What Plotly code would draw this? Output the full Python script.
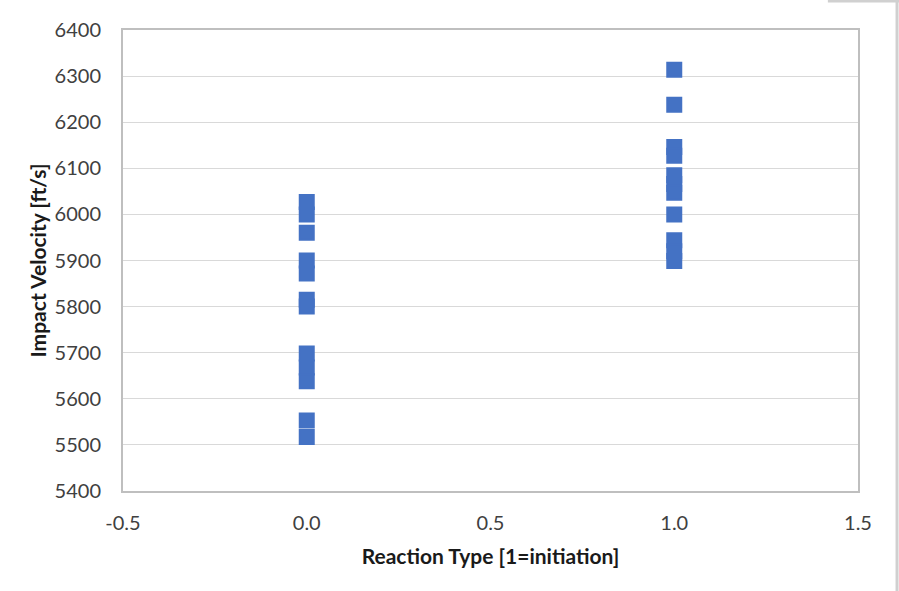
import plotly.graph_objects as go

reaction_0 = [0, 0, 0, 0, 0, 0, 0, 0, 0, 0, 0, 0]
velocity_0 = [6027, 6000, 5960, 5900, 5872, 5815, 5800, 5698, 5668, 5638, 5553, 5517]
reaction_1 = [1, 1, 1, 1, 1, 1, 1, 1, 1, 1, 1]
velocity_1 = [6314, 6238, 6146, 6127, 6085, 6066, 6047, 6000, 5944, 5920, 5899]

x_ticks = [-0.5, 0.0, 0.5, 1.0, 1.5]
x_tick_labels = ["-0.5", "0.0", "0.5", "1.0", "1.5"]
y_ticks = [5400, 5500, 5600, 5700, 5800, 5900, 6000, 6100, 6200, 6300, 6400]

fig = go.Figure()
fig.add_trace(go.Scatter(
    x=reaction_0 + reaction_1,
    y=velocity_0 + velocity_1,
    mode="markers",
    marker=dict(symbol="square", size=14, color="#4472C4", opacity=1,
                line=dict(color="#4472C4", width=2)),
    showlegend=False,
    hoverinfo="skip",
))

fig.update_layout(
    template="none",
    width=899, height=591,
    margin=dict(l=123, r=41, t=30, b=100),
    paper_bgcolor="white", plot_bgcolor="white",
    font=dict(family="Lato", size=20, color="#404040"),
    xaxis=dict(range=[-0.5, 1.5], tickvals=x_ticks, ticktext=x_tick_labels,
               showgrid=False, zeroline=False, showline=True, mirror=True,
               linecolor="#BFBFBF", linewidth=2,
               ticks="outside", ticklen=13, tickcolor="rgba(0,0,0,0)",
               tickfont=dict(size=20, color="#404040"),
               title=dict(text="<b>Reaction Type [1=initiation]</b>",
                          font=dict(size=21, color="#1a1a1a"), standoff=16)),
    yaxis=dict(range=[5400, 6400], tickvals=y_ticks,
               showgrid=True, gridcolor="#D9D9D9", gridwidth=1,
               zeroline=False, showline=True, mirror=True,
               linecolor="#BFBFBF", linewidth=2,
               ticks="outside", ticklen=16, tickcolor="rgba(0,0,0,0)",
               tickfont=dict(size=20, color="#404040"),
               title=dict(text="<b>Impact Velocity [ft/s]</b>",
                          font=dict(size=21, color="#1a1a1a"), standoff=2)),
    shapes=[
        dict(type="line", xref="paper", yref="paper", x0=1.0531, x1=1.0531, y0=-0.3, y1=1.066,
             line=dict(color="#D0D0D0", width=3)),
        dict(type="line", xref="paper", yref="paper", x0=0.959, x1=1.06, y0=1.0629, y1=1.0629,
             line=dict(color="#D0D0D0", width=3)),
    ],
)

fig.write_html("out.html", config={"displayModeBar": False},
               post_script="document.body.style.margin='0px';")
